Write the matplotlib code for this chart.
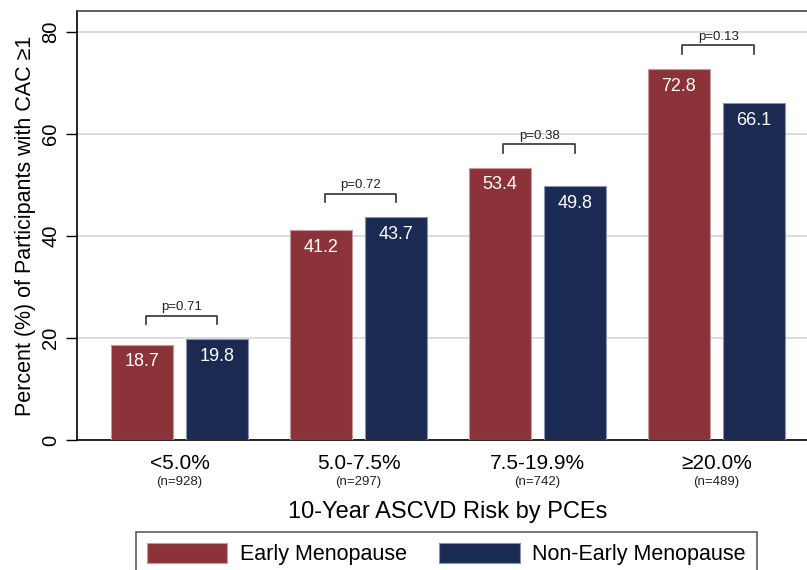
import numpy as np
import matplotlib.pyplot as plt

plt.rcParams['font.family'] = ['Liberation Sans', 'DejaVu Sans']

categories = ['<5.0%', '5.0-7.5%', '7.5-19.9%', '≥20.0%']
n_labels = ['(n=928)', '(n=297)', '(n=742)', '(n=489)']
early = [18.7, 41.2, 53.4, 72.8]
non_early = [19.8, 43.7, 49.8, 66.1]
p_values = ['p=0.71', 'p=0.72', 'p=0.38', 'p=0.13']

red = '#8b3338'
navy = '#1b2a52'

fig = plt.figure(figsize=(8.07, 5.70), dpi=100)
ax = fig.add_axes([0.0954, 0.228, 0.9195, 0.7526])

x = np.arange(len(categories))
w = 0.346
off = 0.21

b1 = ax.bar(x - off, early, w, color=red, edgecolor='#c79a9d', linewidth=0.8,
            label='Early Menopause', zorder=3)
b2 = ax.bar(x + off, non_early, w, color=navy, edgecolor='#8a93ab', linewidth=0.8,
            label='Non-Early Menopause', zorder=3)

for xi, v in zip(x - off, early):
    ax.text(xi, v - 3.4, f'{v:.1f}', color='white', ha='center', va='center',
            fontsize=13, zorder=4)
for xi, v in zip(x + off, non_early):
    ax.text(xi, v - 3.4, f'{v:.1f}', color='white', ha='center', va='center',
            fontsize=13, zorder=4)

# brackets with p values
for i in range(len(categories)):
    top = max(early[i], non_early[i]) + 4.6
    x0 = x[i] - off + 0.02
    x1 = x[i] + off
    ax.plot([x0, x0, x1, x1], [top - 1.7, top, top, top - 1.7],
            color='#333333', lw=1.2, zorder=4)
    ax.text(x[i] + 0.01, top + 0.5, p_values[i], ha='center', va='bottom',
            fontsize=9.5, color='#222222', zorder=4)

ax.set_xlim(-0.573, 3.573)
ax.set_ylim(0, 84.1)
ax.set_yticks([0, 20, 40, 60, 80])
ax.set_yticklabels(['0', '20', '40', '60', '80'], rotation=90, va='center',
                   fontsize=14.5)
ax.tick_params(axis='y', length=8, width=1, pad=4)
ax.grid(axis='y', color='#dddddd', lw=1.4, zorder=0)

ax.set_xticks(x)
ax.set_xticklabels(categories, fontsize=15)
ax.tick_params(axis='x', length=0, pad=10)
for xi, n in zip(x, n_labels):
    ax.text(xi, -0.098, n, transform=ax.get_xaxis_transform(), ha='center',
            va='center', fontsize=9.5, color='#222222')

ax.set_xlabel('10-Year ASCVD Risk by PCEs', fontsize=17, labelpad=20)
ax.set_ylabel('Percent (%) of Participants with CAC ≥1', fontsize=15.5,
              labelpad=4)

ax.spines['left'].set_linewidth(1.2)
ax.spines['bottom'].set_linewidth(1.2)
ax.spines['top'].set_color('#444444')
ax.spines['top'].set_linewidth(1.2)

leg = fig.legend(handles=[b1, b2], loc='upper left',
                 bbox_to_anchor=(136 / 807, 1 - 532 / 570), ncol=2,
                 fontsize=15.5, frameon=True, fancybox=False, edgecolor='#333333',
                 handlelength=3.75, handleheight=1.05, columnspacing=1.5,
                 borderpad=0.5, handletextpad=0.58, borderaxespad=0)
leg.get_frame().set_linewidth(1.2)

fig.savefig('out.png', dpi=100)
